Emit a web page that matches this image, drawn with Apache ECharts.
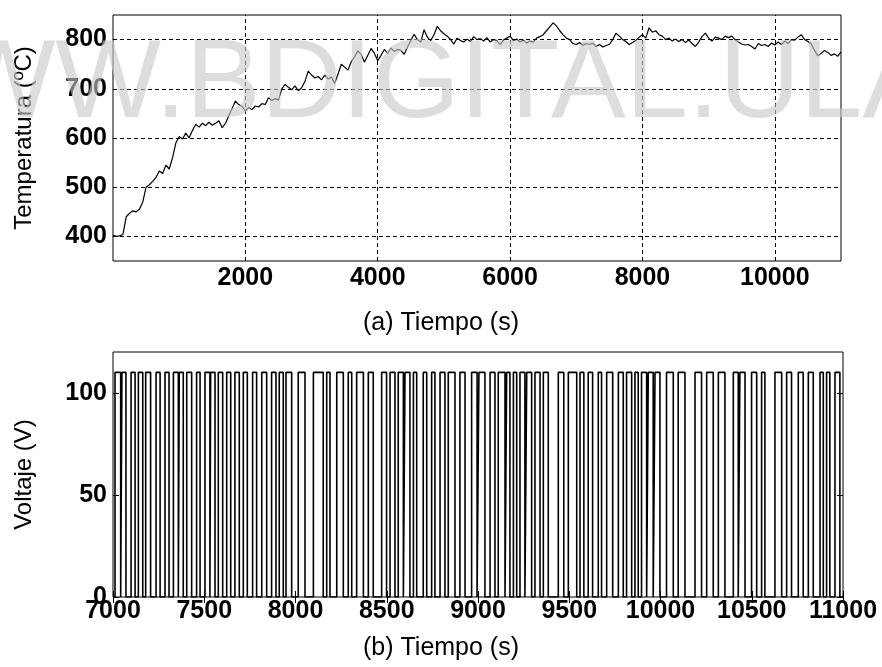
<!DOCTYPE html>
<html>
<head>
<meta charset="utf-8">
<script src="https://cdn.jsdelivr.net/npm/echarts@6/dist/echarts.min.js"></script>
<style>html,body{margin:0;padding:0;background:#fff;}#c{width:882px;height:667px;}</style>
</head>
<body>
<div id="c"></div>
<script>
// ---- Data ----
const tempStep = 50; // seconds between samples, starting at 0 s
const tempValues = [
  402, 400, 401, 404, 440, 447, 452, 450, 455, 470, 500, 505, 512, 520, 533, 528, 545, 537, 560, 590,
  603, 598, 610, 600, 615, 628, 622, 630, 625, 632, 626, 630, 635, 621, 630, 645, 660, 675, 668, 664,
  655, 662, 658, 665, 663, 670, 668, 682, 676, 680, 677, 700, 709, 703, 698, 706, 696, 702, 715, 736,
  728, 722, 725, 718, 728, 720, 724, 711, 730, 750, 744, 738, 755, 765, 777, 770, 754, 768, 782, 772,
  757, 768, 780, 772, 783, 776, 780, 778, 770, 785, 798, 811, 800, 795, 820, 805, 798, 810, 827, 818,
  812, 807, 800, 791, 803, 798, 795, 801, 796, 806, 800, 802, 797, 804, 795, 800, 798, 790, 799, 803,
  807, 798, 801, 795, 799, 793, 797, 795, 803, 806, 810, 818, 826, 834, 828, 818, 810, 803, 800, 792,
  790, 794, 788, 792, 790, 793, 786, 790, 785, 788, 790, 800, 813, 807, 800, 796, 790, 794, 798, 805,
  810, 803, 824, 815, 818, 810, 807, 800, 803, 797, 801, 796, 800, 794, 799, 792, 786, 795, 806, 813,
  803, 797, 805, 803, 800, 807, 804, 807, 800, 795, 791, 789, 790, 786, 781, 792, 788, 790, 786, 793,
  789, 795, 790, 797, 792, 800, 799, 805, 810, 800, 796, 791, 778, 767, 772, 778, 774, 768, 771, 766,
  775
];
const tempXTicks = [2000, 4000, 6000, 8000, 10000];
const tempYTicks = [400, 500, 600, 700, 800];

const pulseLevel = 110;
const pulseOn = [7011,7049,7099,7139,7179,7236,7285,7331,7363,7404,7458,7504,7535,7577,7623,7668,7714,7765,7815,7869,
  7911,7948,8015,8098,8171,8226,8289,8335,8399,8472,8518,8563,8600,8646,8700,8746,8792,8837,8901,8965,
  9005,9066,9111,9157,9194,9230,9267,9312,9358,9440,9495,9559,9604,9659,9705,9769,9814,9860,9896,9933,
  9970,10033,10097,10189,10253,10317,10399,10435,10499,10554,10627,10691,10755,10810,10874,10910,10956];
const pulseOff = [7042,7071,7121,7163,7206,7258,7307,7358,7385,7431,7477,7531,7559,7601,7645,7692,7736,7787,7842,7893,
  7933,7979,8052,8152,8189,8262,8308,8372,8426,8499,8545,8591,8627,8664,8719,8764,8819,8874,8929,8995,
  9038,9093,9148,9175,9212,9257,9294,9340,9385,9470,9541,9580,9628,9677,9738,9796,9842,9878,9924,9960,
  9997,10070,10134,10225,10289,10353,10426,10463,10527,10572,10664,10718,10782,10837,10892,10928,10983];
const voltXTicks = [7000, 7500, 8000, 8500, 9000, 9500, 10000, 10500, 11000];
const voltYTicks = [0, 50, 100];

// ---- Build series data ----
const tempData = tempValues.map((v, i) => [i * tempStep, v]);
const voltData = [[7000, 0]];
pulseOn.forEach((s, i) => {
  const e = pulseOff[i];
  voltData.push([s, 0], [s, pulseLevel], [e, pulseLevel], [e, 0]);
});
voltData.push([11000, 0]);

const FONT = 'Liberation Sans';
const plain = v => String(v);
const tickLabel = { color: '#000', fontFamily: FONT, fontSize: 25, fontWeight: 'bold', formatter: plain };
const nameStyle = { color: '#000', fontFamily: FONT, fontSize: 24 };
const WM = 'rgba(200,200,200,0.62)';

const chart = echarts.init(document.getElementById('c'), null, { renderer: 'canvas' });
chart.setOption({
  animation: false,
  backgroundColor: '#fff',
  grid: [
    { left: 113, top: 15, width: 728, height: 246, show: true, borderColor: '#000', borderWidth: 1, backgroundColor: 'transparent' },
    { left: 113, top: 352, width: 730, height: 245, show: true, borderColor: '#000', borderWidth: 1, backgroundColor: 'transparent' }
  ],
  xAxis: [
    { type: 'value', gridIndex: 0, min: 0, max: 11000,
      axisLine: { show: false }, axisTick: { show: false }, splitLine: { show: false },
      axisLabel: Object.assign({ customValues: tempXTicks, margin: 5 }, tickLabel) },
    { type: 'value', gridIndex: 1, min: 7000, max: 11000, interval: 500,
      axisLine: { show: false }, splitLine: { show: false },
      axisTick: { inside: true, length: 6, lineStyle: { color: '#000' } },
      axisLabel: Object.assign({ customValues: voltXTicks, margin: 2 }, tickLabel) },
    { type: 'value', gridIndex: 1, position: 'top', min: 7000, max: 11000, interval: 500,
      axisLine: { show: false }, splitLine: { show: false }, axisLabel: { show: false },
      axisTick: { inside: true, length: 6, lineStyle: { color: '#000' } } }
  ],
  yAxis: [
    { type: 'value', gridIndex: 0, min: 350, max: 850,
      axisLine: { show: false }, axisTick: { show: false }, splitLine: { show: false },
      axisLabel: Object.assign({ customValues: tempYTicks, margin: 6 }, tickLabel),
      name: 'Temperatura (ºC)', nameLocation: 'middle', nameRotate: 90, nameGap: 77, nameTextStyle: nameStyle },
    { type: 'value', gridIndex: 1, min: 0, max: 120,
      axisLine: { show: false }, splitLine: { show: false },
      axisTick: { inside: true, length: 6, customValues: voltYTicks, lineStyle: { color: '#000' } },
      axisLabel: Object.assign({ customValues: voltYTicks, margin: 6 }, tickLabel),
      name: 'Voltaje (V)', nameLocation: 'middle', nameRotate: 90, nameGap: 77, nameTextStyle: nameStyle },
    { type: 'value', gridIndex: 1, position: 'right', min: 0, max: 120,
      axisLine: { show: false }, splitLine: { show: false }, axisLabel: { show: false },
      axisTick: { inside: true, length: 6, customValues: voltYTicks, lineStyle: { color: '#000' } } }
  ],
  series: [
    { type: 'line', xAxisIndex: 0, yAxisIndex: 0, data: tempData, showSymbol: false, symbol: 'none',
      lineStyle: { color: '#000', width: 1.2 }, z: 3,
      markLine: { silent: true, symbol: 'none', label: { show: false }, animation: false,
        lineStyle: { color: '#000', width: 1, type: [4, 3] },
        data: tempYTicks.map(v => ({ yAxis: v })).concat(tempXTicks.map(v => ({ xAxis: v }))) } },
    { type: 'line', xAxisIndex: 1, yAxisIndex: 1, data: voltData, showSymbol: false, symbol: 'none',
      lineStyle: { color: '#000', width: 1.6 } }
  ],
  graphic: [
    { type: 'text', left: 'center', top: 311, style: { text: '(a) Tiempo (s)', fill: '#000', font: '25px "Liberation Sans"' } },
    { type: 'text', left: 'center', top: 636, style: { text: '(b) Tiempo (s)', fill: '#000', font: '25px "Liberation Sans"' } },
    { type: 'text', x: 186, y: 86, z: 100, silent: true,
      style: { text: 'WWW.', align: 'right', verticalAlign: 'middle', fill: WM, font: '112px "Liberation Sans"' } },
    { type: 'text', x: 186, y: 86, z: 100, silent: true,
      style: { text: 'BDIGITAL.ULA', align: 'left', verticalAlign: 'middle', fill: WM, font: '112px "Liberation Sans"' } }
  ]
});
</script>
</body>
</html>
